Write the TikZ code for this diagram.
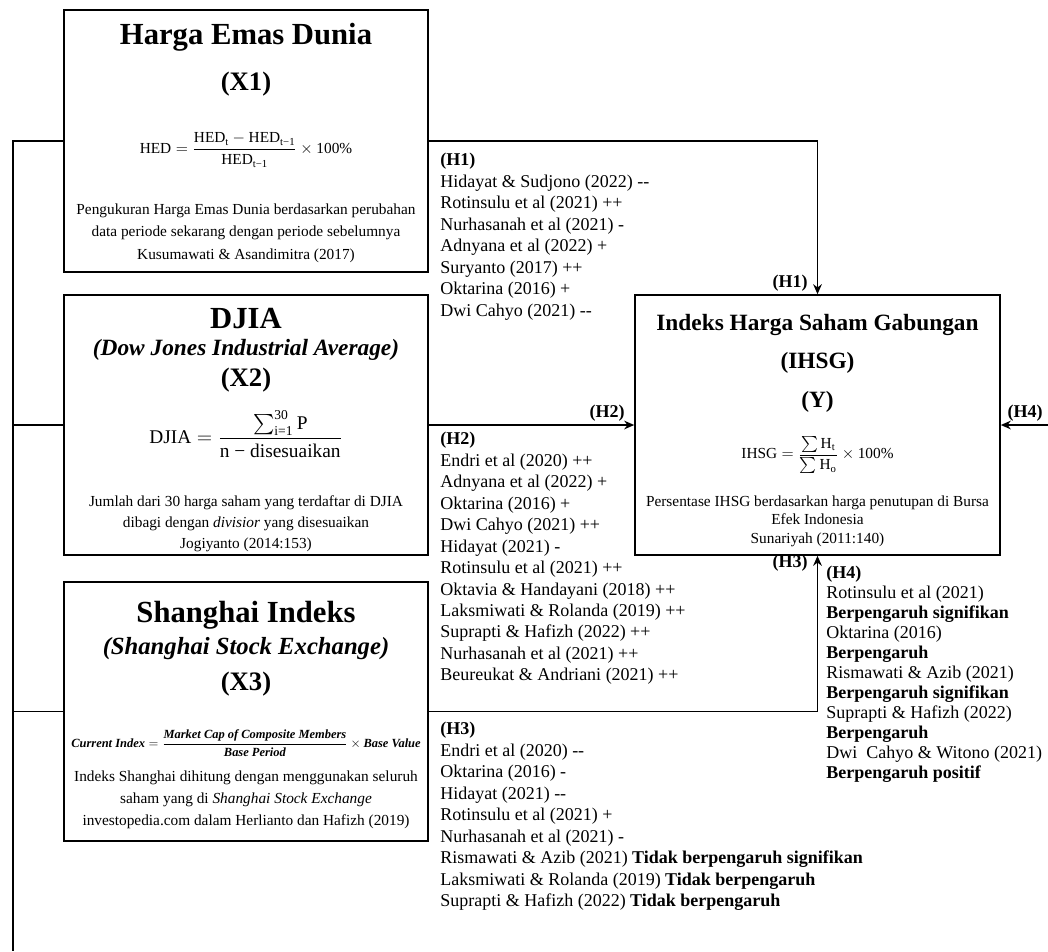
\documentclass[tikz,border=0pt]{standalone}
\usepackage{amsmath}
\usepackage{graphicx}
\usepackage{fontspec}
\setmainfont{Liberation Serif}
\usetikzlibrary{arrows.meta}
\newcommand\fm[1]{\text{#1}}
\newcommand\fmb[1]{\text{\bfseries\itshape #1}}
\newcommand\dd{-\kern0pt-}
\begin{document}
\begin{tikzpicture}[x=0.75pt,y=-0.75pt,
 box/.style={draw, line width=1.2pt, inner sep=0pt, minimum width=273pt},
 conn/.style={line width=1.2pt},
 arr/.style={conn,-{Stealth[length=7.5pt,width=6.5pt]}},
 ttlbig/.style={font=\fontsize{23}{26}\selectfont\bfseries, inner sep=0pt},
 subt/.style={font=\fontsize{17.5}{20}\selectfont\bfseries\itshape, inner sep=0pt},
 xlab/.style={font=\fontsize{20}{23}\selectfont\bfseries, inner sep=0pt},
 ytl/.style={font=\fontsize{17.5}{20}\selectfont\bfseries, inner sep=0pt},
 desc/.style={font=\fontsize{11.5}{16.5}\selectfont, align=center, inner sep=0pt},
 frm/.style={inner sep=0pt, font=\fontsize{11.5}{13}\selectfont},
 hlab/.style={font=\fontsize{13.5}{16}\selectfont\bfseries, inner sep=0pt},
 lst/.style={font=\fontsize{13.5}{16.1}\selectfont, align=left, anchor=north west, inner sep=0pt},
]
\useasboundingbox (0,0) rectangle (1048,951);

% boxes
\node[box, minimum height=196.5pt] (x1) at (246,141) {};
\node[box, minimum height=195pt] (x2) at (246,425) {};
\node[box, minimum height=194.25pt] (x3) at (246,711.5) {};
\node[box, minimum width=273.75pt, minimum height=195pt] (y) at (817.5,425) {};

% X1 contents
\node[ttlbig] (x1t) at (246,37) {Harga Emas Dunia};
\node[xlab] (x1x) at (246,84) {(X1)};
\node[frm] (x1f) at (246,150) {$\fm{HED} = \dfrac{\fm{HED}_{\fm{t}} - \fm{HED}_{\fm{t−1}}}{\fm{HED}_{\fm{t−1}}} \times \fm{100\%}$};
\node[desc, font=\fontsize{11.5}{16.9}\selectfont] (x1d) at (246,233) {Pengukuran Harga Emas Dunia berdasarkan perubahan\\data periode sekarang dengan periode sebelumnya\\Kusumawati \& Asandimitra (2017)};

% X2 contents
\node[ttlbig] (x2t) at (246,319) {DJIA};
\node[subt] (x2s) at (246,350) {(Dow Jones Industrial Average)};
\node[xlab] (x2x) at (246,380) {(X2)};
\node[frm] (x2f) at (246,434) {\resizebox{145pt}{!}{$\fm{DJIA} = \dfrac{\textstyle\sum_{\fm{i=1}}^{\fm{30}} \fm{P}}{\fm{n − disesuaikan}}$}};
\node[desc, font=\fontsize{11.5}{15.75}\selectfont] (x2d) at (246,524) {Jumlah dari 30 harga saham yang terdaftar di DJIA\\dibagi dengan \textit{divisior} yang disesuaikan\\Jogiyanto (2014:153)};

% X3 contents
\node[ttlbig] (x3t) at (246,615) {Shanghai Indeks};
\node[subt, font=\fontsize{18.5}{21}\selectfont\bfseries\itshape] (x3s) at (246,649) {(Shanghai Stock Exchange)};
\node[xlab] (x3x) at (246,684) {(X3)};
\node[frm] (x3f) at (246,743) {\resizebox{262pt}{!}{$\fmb{Current Index} = \dfrac{\fmb{Market Cap of Composite Members}}{\fmb{Base Period}} \times \fmb{Base Value}$}};
\node[desc, font=\fontsize{11.5}{16.5}\selectfont] (x3d) at (246,800) {Indeks Shanghai dihitung dengan menggunakan seluruh\\saham yang di \textit{Shanghai Stock Exchange}\\investopedia.com dalam Herlianto dan Hafizh (2019)};

% Y contents
\node[ytl] (yt) at (817.5,325) {Indeks Harga Saham Gabungan};
\node[ytl] (yi) at (817.5,363) {(IHSG)};
\node[ytl] (yy) at (817.5,402) {(Y)};
\node[frm] (yf) at (817.5,455) {$\fm{IHSG} = \dfrac{\textstyle\sum \fm{H}_{\fm{t}}}{\textstyle\sum \fm{H}_{\fm{o}}} \times \fm{100\%}$};
\node[desc, font=\fontsize{11.5}{13.9}\selectfont] (yd) at (817.5,521) {Persentase IHSG berdasarkan harga penutupan di Bursa\\Efek Indonesia\\Sunariyah (2011:140)};

% connectors
\coordinate (lx) at (13,951);
\coordinate (h4) at (1048,425);
\draw[conn] (x1.west) -- (x1.west -| lx) -- (lx);
\draw[conn] (x2.west) -- (x2.west -| lx);
\draw[conn] (x3.west) -- (x3.west -| lx);
\draw[arr] (x1.east) -| (y.north);
\draw[arr] (x2.east) -- (y.west);
\draw[arr] (x3.east) -| (y.south);
\draw[arr] (h4) -- (y.east);

% arrow labels
\node[hlab] (lh1) at (790,283) {(H1)};
\node[hlab] (lh2) at (607,413) {(H2)};
\node[hlab] (lh3) at (790,563) {(H3)};
\node[hlab] (lh4) at (1025,413) {(H4)};

% lists
\node[lst] (l1) at (440,153) {\textbf{(H1)}\\ Hidayat \& Sudjono (2022) \dd\\ Rotinsulu et al (2021) ++\\ Nurhasanah et al (2021) -\\ Adnyana et al (2022) +\\ Suryanto (2017) ++\\ Oktarina (2016) +\\ Dwi Cahyo (2021) \dd};
\node[lst] (l2) at (440,432) {\textbf{(H2)}\\ Endri et al (2020) ++\\ Adnyana et al (2022) +\\ Oktarina (2016) +\\ Dwi Cahyo (2021) ++\\ Hidayat (2021) -\\ Rotinsulu et al (2021) ++\\ Oktavia \& Handayani (2018) ++\\ Laksmiwati \& Rolanda (2019) ++\\ Suprapti \& Hafizh (2022) ++\\ Nurhasanah et al (2021) ++\\ Beureukat \& Andriani (2021) ++};
\node[lst] (l3) at (440,722) {\textbf{(H3)}\\ Endri et al (2020) \dd\\ Oktarina (2016) -\\ Hidayat (2021) \dd\\ Rotinsulu et al (2021) +\\ Nurhasanah et al (2021) -\\ Rismawati \& Azib (2021) \textbf{Tidak berpengaruh signifikan}\\ Laksmiwati \& Rolanda (2019) \textbf{Tidak berpengaruh}\\ Suprapti \& Hafizh (2022) \textbf{Tidak berpengaruh}};
\node[lst, font=\fontsize{13.5}{15}\selectfont] (l4) at (826,566) {\textbf{(H4)}\\ Rotinsulu et al (2021)\\ \textbf{Berpengaruh signifikan}\\ Oktarina (2016)\\ \textbf{Berpengaruh}\\ Rismawati \& Azib (2021)\\ \textbf{Berpengaruh signifikan}\\ Suprapti \& Hafizh (2022)\\ \textbf{Berpengaruh}\\ Dwi\ \ Cahyo \& Witono (2021)\\ \textbf{Berpengaruh positif}};
\end{tikzpicture}
\end{document}
